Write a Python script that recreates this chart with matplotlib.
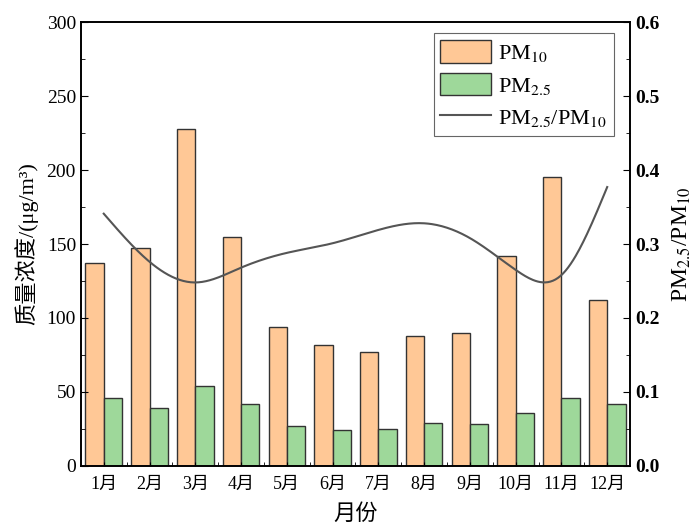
import numpy as np
import matplotlib
matplotlib.use("Agg")
import matplotlib.pyplot as plt
from matplotlib.ticker import MultipleLocator, FormatStrFormatter

plt.rcParams['font.family'] = ['Liberation Serif', 'Noto Sans CJK SC']
plt.rcParams['mathtext.fontset'] = 'stix'

months = ['1月', '2月', '3月', '4月', '5月', '6月', '7月', '8月', '9月', '10月', '11月', '12月']
pm10 = [137, 147, 228, 155, 94, 82, 77, 88, 90, 142, 195, 112]
pm25 = [46, 39, 54, 42, 27, 24, 25, 29, 28, 36, 46, 42]
ratio = [0.341, 0.276, 0.248, 0.268, 0.288, 0.301, 0.319, 0.328, 0.308, 0.265, 0.258, 0.377]


def natural_spline(x, y, n=400):
    # natural cubic spline, only used to draw the curve smoothly
    x = np.asarray(x, float)
    y = np.asarray(y, float)
    k = len(x)
    h = np.diff(x)
    A = np.zeros((k, k))
    b = np.zeros(k)
    A[0, 0] = A[-1, -1] = 1
    for i in range(1, k - 1):
        A[i, i - 1] = h[i - 1]
        A[i, i] = 2 * (h[i - 1] + h[i])
        A[i, i + 1] = h[i]
        b[i] = 3 * ((y[i + 1] - y[i]) / h[i] - (y[i] - y[i - 1]) / h[i - 1])
    c = np.linalg.solve(A, b)
    xs = np.linspace(x[0], x[-1], n)
    idx = np.clip(np.searchsorted(x, xs) - 1, 0, k - 2)
    dx = xs - x[idx]
    bb = (y[idx + 1] - y[idx]) / h[idx] - h[idx] * (2 * c[idx] + c[idx + 1]) / 3
    dd = (c[idx + 1] - c[idx]) / (3 * h[idx])
    ys = y[idx] + bb * dx + c[idx] * dx ** 2 + dd * dx ** 3
    return xs, ys


x = np.arange(len(months))
w = 0.4

fig, ax = plt.subplots(figsize=(6.97, 5.27), dpi=100)
fig.subplots_adjust(left=0.116, right=0.904, top=0.958, bottom=0.116)

b1 = ax.bar(x - w / 2, pm10, w, color='#FFC896', edgecolor='#333333', linewidth=1)
b2 = ax.bar(x + w / 2, pm25, w, color='#9ED89A', edgecolor='#333333', linewidth=1)

ax.set_xlim(-0.5, 11.5)
ax.set_ylim(0, 300)
ax.set_xticks(x)
ax.set_xticklabels(months)
ax.set_xticks(x[:-1] + 0.5, minor=True)
ax.yaxis.set_major_locator(MultipleLocator(50))
ax.yaxis.set_minor_locator(MultipleLocator(25))
ax.tick_params(axis='both', which='both', direction='in')
ax.tick_params(axis='y', labelsize=14)
ax.tick_params(axis='x', labelsize=13, pad=7)
ax.tick_params(axis='y', which='major', length=5)
ax.tick_params(axis='y', which='minor', length=3)
ax.tick_params(axis='x', which='both', length=3)
ax.set_xlabel('月份', fontsize=16, labelpad=8)
ax.set_ylabel('质量浓度/(μg/m³)', fontsize=16, labelpad=6)

ax2 = ax.twinx()
xs, ys = natural_spline(x, ratio)
l1, = ax2.plot(xs, ys, color='#555555', linewidth=1.5)
ax2.set_ylim(0, 0.6)
ax2.yaxis.set_major_locator(MultipleLocator(0.1))
ax2.yaxis.set_minor_locator(MultipleLocator(0.05))
ax2.yaxis.set_major_formatter(FormatStrFormatter('%.1f'))
ax2.tick_params(axis='y', which='both', direction='in', labelsize=14)
ax2.tick_params(axis='y', which='major', length=5)
ax2.tick_params(axis='y', which='minor', length=3)
for t in ax2.get_yticklabels():
    t.set_fontweight('bold')
ax2.set_ylabel(r'PM$_{2.5}$/PM$_{10}$', fontsize=17, labelpad=8)

for a in (ax, ax2):
    for s in a.spines.values():
        s.set_linewidth(1.2)

leg = ax2.legend([b1, b2, l1], [r'PM$_{10}$', r'PM$_{2.5}$', r'PM$_{2.5}$/PM$_{10}$'],
                 loc='upper right', bbox_to_anchor=(0.978, 0.985), fontsize=16,
                 fancybox=False, edgecolor='#666666', framealpha=1,
                 handlelength=2.3, handleheight=1.2, borderpad=0.3, labelspacing=0.4,
                 handletextpad=0.3, borderaxespad=0.2)
leg.get_frame().set_linewidth(0.8)

plt.savefig('out.png', dpi=100)
